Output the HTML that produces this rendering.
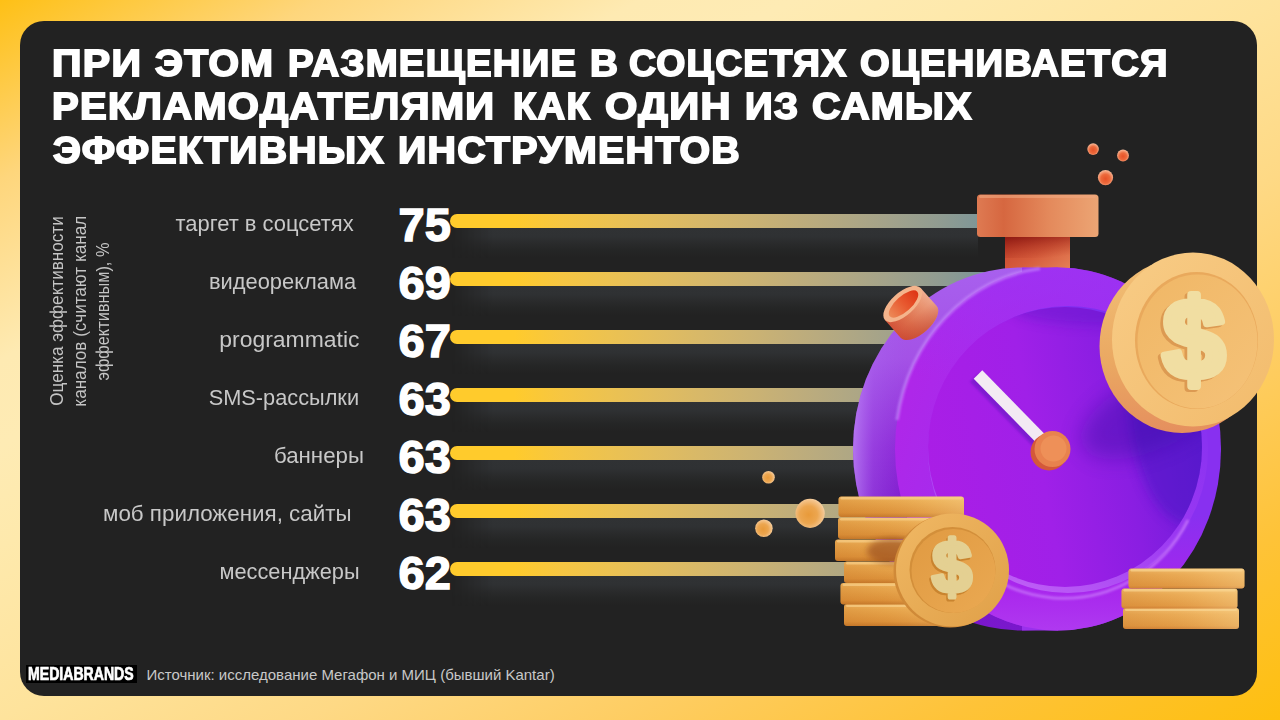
<!DOCTYPE html>
<html lang="ru">
<head>
<meta charset="utf-8">
<title>Slide</title>
<style>
html,body{margin:0;padding:0;}
body{width:1280px;height:720px;overflow:hidden;position:relative;
  font-family:"Liberation Sans",sans-serif;
  background:linear-gradient(to bottom right,#fec016 0%,#fed67c 12.5%,#feeab2 25%,#feebb4 31%,#fee9ac 38%,#fee39c 50%,#fed985 62%,#fecd62 74.5%,#fec338 87%,#febf0f 100%);}
#panel{position:absolute;left:20.4px;top:21.1px;width:1236.8px;height:675.4px;border-radius:24px;background:#222222;}
.t{position:absolute;left:53px;white-space:nowrap;color:#fff;font-weight:bold;font-size:37px;line-height:44px;
  transform-origin:0 0;-webkit-text-stroke:1.8px #fff;letter-spacing:1.2px;}
.lab{position:absolute;right:920px;white-space:nowrap;color:#c8c8c8;font-size:22px;line-height:24px;text-align:right;transform-origin:100% 50%;}
.val{position:absolute;left:398.6px;white-space:nowrap;color:#fff;font-weight:bold;font-size:47px;line-height:48px;-webkit-text-stroke:1.5px #fff;}
.bar{position:absolute;left:450px;height:14px;border-radius:7px;
  background:linear-gradient(to right,#ffcb2c 0%,#ffcb2c 12.0%,#f6c642 20.8%,#ecc251 29.6%,#e2bd5e 38.4%,#d7b869 47.2%,#ccb372 56.0%,#bfad7b 64.8%,#b1a883 73.6%,#a2a28b 82.4%,#919c91 91.2%,#7c9598 100.0%) no-repeat;background-size:535px 14px;}
.sh{position:absolute;left:452px;height:30px;
  background:linear-gradient(to bottom,#303234 0%,#2f3133 28%,#2a2b2c 50%,#252626 72%,#222222 100%);
  -webkit-mask-image:linear-gradient(to right,transparent 0,#000 40px);mask-image:linear-gradient(to right,transparent 0,#000 40px);}
#ylab{position:absolute;left:45.7px;top:431px;width:240px;color:#c4c4c4;font-size:18.6px;line-height:22.9px;text-align:center;white-space:nowrap;
  transform-origin:0 0;transform:rotate(-90deg);}
#ylab span{display:inline-block;transform:scaleX(0.92);}
#ylab span.s3{transform:scaleX(0.878);}
#logo{position:absolute;left:25.5px;top:665px;width:111.5px;height:17.5px;background:#000;color:#fff;font-weight:bold;font-size:17.5px;line-height:18.5px;white-space:nowrap;overflow:hidden;}
#logo span{display:inline-block;transform-origin:0 50%;transform:scaleX(0.805);margin-left:2.2px;-webkit-text-stroke:0.7px #fff;}
#src{position:absolute;left:146.5px;top:666px;color:#c8c8c8;font-size:15px;line-height:18px;white-space:nowrap;transform-origin:0 50%;}
svg{position:absolute;left:0;top:0;}
</style>
</head>
<body>
<div id="panel"></div>

<div class="t" style="top:42.1px;left:51.80px;transform:scaleX(1.1088);">ПРИ</div>
<div class="t" style="top:42.1px;left:155.17px;transform:scaleX(1.0613);">ЭТОМ</div>
<div class="t" style="top:42.1px;left:287.67px;transform:scaleX(1.0362);">РАЗМЕЩЕНИЕ</div>
<div class="t" style="top:42.1px;left:590.15px;transform:scaleX(1.0447);">В</div>
<div class="t" style="top:42.1px;left:629.39px;transform:scaleX(1.0108);">СОЦСЕТЯХ</div>
<div class="t" style="top:42.1px;left:859.88px;transform:scaleX(1.0318);">ОЦЕНИВАЕТСЯ</div>
<div class="t" style="top:85.1px;left:51.85px;transform:scaleX(1.0809);">РЕКЛАМОДАТЕЛЯМИ</div>
<div class="t" style="top:85.1px;left:512.67px;transform:scaleX(1.0334);">КАК</div>
<div class="t" style="top:85.1px;left:605.32px;transform:scaleX(1.1251);">ОДИН</div>
<div class="t" style="top:85.1px;left:745.19px;transform:scaleX(1.0397);">ИЗ</div>
<div class="t" style="top:85.1px;left:812.36px;transform:scaleX(1.0695);">САМЫХ</div>
<div class="t" style="top:128.6px;left:53.17px;transform:scaleX(1.0589);">ЭФФЕКТИВНЫХ</div>
<div class="t" style="top:128.6px;left:398.21px;transform:scaleX(1.0630);">ИНСТРУМЕНТОВ</div>

<div id="ylab"><span>Оценка эффективности</span><br><span>каналов (считают канал</span><br><span class="s3">эффективным), %</span></div>

<!-- shadows -->
<div class="sh" style="top:228px;width:526px;"></div>
<div class="sh" style="top:286px;width:500px;"></div>
<div class="sh" style="top:344px;width:480px;"></div>
<div class="sh" style="top:402px;width:440px;"></div>
<div class="sh" style="top:460px;width:440px;"></div>
<div class="sh" style="top:518px;width:440px;"></div>
<div class="sh" style="top:576px;width:430px;"></div>

<!-- bars -->
<div class="bar" style="top:214px;width:535px;"></div>
<div class="bar" style="top:272px;width:540px;"></div>
<div class="bar" style="top:330px;width:520px;"></div>
<div class="bar" style="top:388px;width:470px;"></div>
<div class="bar" style="top:446px;width:470px;"></div>
<div class="bar" style="top:504px;width:470px;"></div>
<div class="bar" style="top:562px;width:450px;"></div>

<!-- values -->
<div class="val" style="top:200.7px;">75</div>
<div class="val" style="top:258.7px;">69</div>
<div class="val" style="top:316.7px;">67</div>
<div class="val" style="top:374.7px;">63</div>
<div class="val" style="top:432.7px;">63</div>
<div class="val" style="top:490.7px;">63</div>
<div class="val" style="top:548.7px;">62</div>

<!-- labels -->
<div class="lab" style="top:212.4px;right:926.25px;transform:scaleX(0.9974);">таргет в соцсетях</div>
<div class="lab" style="top:270.4px;right:923.75px;transform:scaleX(0.9932);">видеореклама</div>
<div class="lab" style="top:328.4px;right:920.50px;transform:scaleX(1.0423);">programmatic</div>
<div class="lab" style="top:386.4px;right:920.70px;transform:scaleX(0.9890);">SMS-рассылки</div>
<div class="lab" style="top:444.4px;right:916.00px;transform:scaleX(1.0120);">баннеры</div>
<div class="lab" style="top:502.4px;right:928.30px;transform:scaleX(1.0162);">моб приложения, сайты</div>
<div class="lab" style="top:560.4px;right:920.70px;transform:scaleX(0.9890);">мессенджеры</div>

<div id="logo"><span>MEDIABRANDS</span></div>
<div id="src">Источник: исследование Мегафон и МИЦ (бывший Kantar)</div>

<svg id="art" width="1280" height="720" viewBox="0 0 1280 720">
<defs>
  <linearGradient id="gSide" x1="0" y1="0" x2="0" y2="1">
    <stop offset="0" stop-color="#a860ee"/><stop offset="0.25" stop-color="#a452e6"/><stop offset="0.5" stop-color="#8c28d6"/><stop offset="0.75" stop-color="#7612c6"/><stop offset="1" stop-color="#7a18cc"/>
  </linearGradient>
  <linearGradient id="gSideHi" x1="0" y1="0" x2="1" y2="0">
    <stop offset="0" stop-color="#c08cf8" stop-opacity="0.75"/><stop offset="0.06" stop-color="#b070f4" stop-opacity="0.3"/><stop offset="0.16" stop-color="#a060f0" stop-opacity="0"/>
  </linearGradient>
  <linearGradient id="gRim" x1="0" y1="0" x2="1" y2="0.35">
    <stop offset="0" stop-color="#b424e6"/><stop offset="0.3" stop-color="#a82aec"/><stop offset="0.7" stop-color="#9a2ef0"/><stop offset="1" stop-color="#8830f0"/>
  </linearGradient>
  <linearGradient id="gWall" x1="0.8" y1="0" x2="0.3" y2="1">
    <stop offset="0" stop-color="#7a2cf0"/><stop offset="0.6" stop-color="#9a38f2"/><stop offset="1" stop-color="#c060f6"/>
  </linearGradient>
  <linearGradient id="gRimV" x1="0" y1="0" x2="0" y2="1">
    <stop offset="0" stop-color="#9c34f4" stop-opacity="0.7"/><stop offset="0.3" stop-color="#9c34f4" stop-opacity="0"/><stop offset="0.68" stop-color="#ac24ec" stop-opacity="0"/><stop offset="0.88" stop-color="#ac24ec" stop-opacity="0.8"/><stop offset="1" stop-color="#b23af0" stop-opacity="0.9"/>
  </linearGradient>
  <linearGradient id="gFace" x1="0" y1="0.6" x2="1" y2="0.4">
    <stop offset="0" stop-color="#aa1ee6"/><stop offset="0.4" stop-color="#a020e8"/><stop offset="0.7" stop-color="#8a1ee2"/><stop offset="1" stop-color="#6a1cd8"/>
  </linearGradient>
  <radialGradient id="gFaceSh" cx="0.62" cy="0.12" r="0.55">
    <stop offset="0" stop-color="#4a10b0" stop-opacity="0.75"/><stop offset="1" stop-color="#4a10b0" stop-opacity="0"/>
  </radialGradient>
  <linearGradient id="gCap" x1="0" y1="0" x2="1" y2="0">
    <stop offset="0" stop-color="#de7a52"/><stop offset="0.22" stop-color="#d66740"/><stop offset="0.6" stop-color="#e48a5c"/><stop offset="1" stop-color="#eca574"/>
  </linearGradient>
  <linearGradient id="gStem" x1="0" y1="0" x2="1" y2="1">
    <stop offset="0" stop-color="#c4402a"/><stop offset="0.5" stop-color="#d65c3c"/><stop offset="1" stop-color="#e8885c"/>
  </linearGradient>
  <linearGradient id="gStemSh" x1="0.3" y1="0" x2="0.7" y2="1">
    <stop offset="0" stop-color="#7c0c0a" stop-opacity="0.7"/><stop offset="0.45" stop-color="#8c140e" stop-opacity="0.35"/><stop offset="1" stop-color="#a02414" stop-opacity="0"/>
  </linearGradient>
  <linearGradient id="gBtnBody" x1="0" y1="0" x2="1" y2="0">
    <stop offset="0" stop-color="#d4553a"/><stop offset="0.35" stop-color="#e07450"/><stop offset="0.8" stop-color="#eea07c"/><stop offset="1" stop-color="#f2b294"/>
  </linearGradient>
  <linearGradient id="gBtnShade" x1="0" y1="0" x2="0" y2="1">
    <stop offset="0" stop-color="#c03c28" stop-opacity="0"/><stop offset="0.5" stop-color="#c03c28" stop-opacity="0.12"/><stop offset="1" stop-color="#b83424" stop-opacity="0.5"/>
  </linearGradient>
  <linearGradient id="gBtnIn" x1="0" y1="0" x2="1" y2="0">
    <stop offset="0" stop-color="#ec8a58"/><stop offset="0.5" stop-color="#e85a30"/><stop offset="1" stop-color="#de3414"/>
  </linearGradient>
  <radialGradient id="gBallO" cx="0.5" cy="0.58" r="0.6">
    <stop offset="0" stop-color="#e65228"/><stop offset="0.5" stop-color="#ec6a3c"/><stop offset="0.85" stop-color="#f6a884"/><stop offset="1" stop-color="#f8c4a4"/>
  </radialGradient>
  <radialGradient id="gBallG" cx="0.45" cy="0.55" r="0.6">
    <stop offset="0" stop-color="#e89a3a"/><stop offset="0.5" stop-color="#eca650"/><stop offset="0.85" stop-color="#f4c48c"/><stop offset="1" stop-color="#f8dab4"/>
  </radialGradient>
  <linearGradient id="gBigEdge" x1="0" y1="0" x2="0" y2="1">
    <stop offset="0" stop-color="#f2c076"/><stop offset="0.6" stop-color="#eaa862"/><stop offset="1" stop-color="#e58f5e"/>
  </linearGradient>
  <linearGradient id="gBigFace" x1="0" y1="0" x2="1" y2="1">
    <stop offset="0" stop-color="#f8cc86"/><stop offset="1" stop-color="#f2bb6c"/>
  </linearGradient>
  <linearGradient id="gBigIn" x1="0" y1="0" x2="1" y2="1">
    <stop offset="0" stop-color="#f0b766"/><stop offset="1" stop-color="#f5c278"/>
  </linearGradient>
  <linearGradient id="gCoin" x1="0" y1="0" x2="1" y2="1">
    <stop offset="0" stop-color="#f0b864"/><stop offset="1" stop-color="#e0a048"/>
  </linearGradient>
  <linearGradient id="gCoinIn" x1="0" y1="0" x2="1" y2="1">
    <stop offset="0" stop-color="#e09a42"/><stop offset="1" stop-color="#eaa952"/>
  </linearGradient>
  <linearGradient id="gStack" x1="0" y1="0" x2="0" y2="1">
    <stop offset="0" stop-color="#f2bb66"/><stop offset="0.25" stop-color="#eaaa50"/><stop offset="0.8" stop-color="#de943c"/><stop offset="1" stop-color="#c67a2c"/>
  </linearGradient>
  <linearGradient id="gStackR" x1="0" y1="0" x2="0" y2="1">
    <stop offset="0" stop-color="#f4c070"/><stop offset="0.3" stop-color="#ecae58"/><stop offset="0.85" stop-color="#e39c46"/><stop offset="1" stop-color="#d4853a"/>
  </linearGradient>
  <linearGradient id="gStackH" x1="0" y1="0" x2="1" y2="0">
    <stop offset="0" stop-color="#c06a1c" stop-opacity="0.22"/><stop offset="0.35" stop-color="#c06a1c" stop-opacity="0.08"/><stop offset="0.7" stop-color="#ffe2a0" stop-opacity="0.12"/><stop offset="1" stop-color="#ffe6a8" stop-opacity="0.3"/>
  </linearGradient>
  <filter id="b1" x="-20%" y="-20%" width="140%" height="140%"><feGaussianBlur stdDeviation="1"/></filter>
  <filter id="b3" x="-20%" y="-20%" width="140%" height="140%"><feGaussianBlur stdDeviation="3"/></filter>
  <filter id="b10" x="-40%" y="-40%" width="180%" height="180%"><feGaussianBlur stdDeviation="10"/></filter>
  <filter id="b6" x="-30%" y="-30%" width="160%" height="160%"><feGaussianBlur stdDeviation="6"/></filter>
  <clipPath id="cFace"><ellipse cx="1065" cy="447" rx="137" ry="140"/></clipPath>
</defs>

<!-- small orange balls -->
<circle cx="1093.1" cy="149.1" r="5.8" fill="url(#gBallO)"/>
<circle cx="1123" cy="155.5" r="5.9" fill="url(#gBallO)"/>
<circle cx="1105.5" cy="177.6" r="7.6" fill="url(#gBallO)"/>
<!-- gold balls -->
<circle cx="768.5" cy="477.2" r="6.3" fill="url(#gBallG)"/>
<circle cx="810.1" cy="513.3" r="14.6" fill="url(#gBallG)"/>
<circle cx="763.9" cy="528.3" r="8.75" fill="url(#gBallG)"/>

<!-- top button -->
<rect x="1005" y="232" width="65" height="45" fill="url(#gStem)"/>
<rect x="1005" y="236" width="65" height="22" fill="url(#gStemSh)"/>
<rect x="977" y="194.5" width="121.5" height="42.5" rx="3.5" fill="url(#gCap)"/>
<rect x="979" y="195" width="117" height="3" rx="1.5" fill="#f0a880" opacity="0.6"/>


<!-- clock body -->
<g>
  <ellipse cx="1022" cy="449" rx="169" ry="181.5" fill="url(#gSide)"/>
  <ellipse cx="1022" cy="449" rx="169" ry="181.5" fill="url(#gSideHi)"/>
  <rect x="1022" y="267.5" width="36" height="363" fill="#9a30ec"/>
  <ellipse cx="1058" cy="449" rx="163" ry="181.5" fill="url(#gRim)"/>
  <ellipse cx="1058" cy="449" rx="163" ry="181.5" fill="url(#gRimV)"/>
  <!-- rim highlight (upper-left only) -->
  <path d="M 1040 268.5 A 163 181.5 0 0 0 897 420" fill="none" stroke="#c88cfc" stroke-width="3.5" opacity="0.6" filter="url(#b1)"/>
  <!-- recess wall -->
  <ellipse cx="1068" cy="449.5" rx="140" ry="143.5" fill="url(#gWall)"/>
  <ellipse cx="1065" cy="447" rx="137" ry="140" fill="url(#gFace)"/>
  <g clip-path="url(#cFace)">
    <ellipse cx="1190" cy="390" rx="62" ry="135" fill="#4a14c4" opacity="0.55" filter="url(#b6)"/>
    <ellipse cx="1110" cy="308" rx="100" ry="18" fill="#5a16c8" opacity="0.4" filter="url(#b6)"/>
    <ellipse cx="1155" cy="412" rx="80" ry="36" fill="#3a0ea6" opacity="0.42" filter="url(#b10)" transform="rotate(-25 1155 412)"/>
  </g>
  <!-- lower inner highlight -->
  <path d="M 932 500 A 139 143 0 0 0 1188 520" fill="none" stroke="#cc80fc" stroke-width="3" opacity="0.65" filter="url(#b1)"/>
</g>

<!-- side button -->
<g transform="translate(902.8,304) rotate(-41.8)">
  <path d="M -24 0 L -24 24 A 24 11.5 0 0 0 24 24 L 24 0 Z" fill="url(#gBtnBody)"/>
  <path d="M -24 0 L -24 24 A 24 11.5 0 0 0 24 24 L 24 0 Z" fill="url(#gBtnShade)"/>
  <ellipse cx="0" cy="0" rx="24" ry="11.5" fill="#f4b48c"/>
  <ellipse cx="0.5" cy="0.5" rx="18.5" ry="7.8" fill="url(#gBtnIn)"/>
</g>

<!-- hand -->
<line x1="978" y1="374.5" x2="1043" y2="441" stroke="#4a12b0" stroke-width="12.5" opacity="0.4" transform="translate(-3.5,3)" filter="url(#b1)"/>
<line x1="978" y1="374.5" x2="1043" y2="441" stroke="#f3eaf3" stroke-width="12"/>
<circle cx="1049" cy="452" r="18.5" fill="#d4583a"/>
<circle cx="1052.5" cy="449" r="18" fill="#e8824e"/>
<circle cx="1053.5" cy="448.5" r="13" fill="#ee9058"/>

<!-- big coin -->
<g>
  <ellipse cx="1182" cy="346" rx="82.5" ry="87" fill="url(#gBigEdge)"/>
  <ellipse cx="1193" cy="339.5" rx="81" ry="87" fill="url(#gBigFace)"/>
  <ellipse cx="1196.5" cy="340.5" rx="61.5" ry="68.5" fill="#e9a95c"/>
  <ellipse cx="1197.5" cy="341.5" rx="60" ry="67" fill="url(#gBigIn)"/>
  <g transform="translate(1193.75,377.78) scale(1.1083,1.1111)">
  <text x="0" y="0" font-family="Liberation Sans, sans-serif" font-weight="bold" font-size="100" text-anchor="middle" fill="#dc9a52" stroke="#dc9a52" stroke-width="7" stroke-linejoin="round" transform="translate(-2.5,2)">$</text>
  <text x="0" y="0" font-family="Liberation Sans, sans-serif" font-weight="bold" font-size="100" text-anchor="middle" fill="#f1dea2" stroke="#f1dea2" stroke-width="7" stroke-linejoin="round">$</text>
  </g>
</g>

<!-- left coin stack -->
<g>
  <rect x="844" y="604" width="120" height="22" rx="3" fill="url(#gStack)"/>
  <rect x="844" y="604" width="120" height="22" rx="3" fill="url(#gStackH)"/>
  <rect x="846" y="604.5" width="116" height="2.5" rx="1.2" fill="#f8cf88" opacity="0.7"/>
  <rect x="840.5" y="583" width="120" height="21.5" rx="3" fill="url(#gStack)"/>
  <rect x="840.5" y="583" width="120" height="21.5" rx="3" fill="url(#gStackH)"/>
  <rect x="842.5" y="583.5" width="116" height="2.5" rx="1.2" fill="#f8cf88" opacity="0.7"/>
  <rect x="844" y="561.5" width="120" height="21.5" rx="3" fill="url(#gStack)"/>
  <rect x="844" y="561.5" width="120" height="21.5" rx="3" fill="url(#gStackH)"/>
  <rect x="846" y="562.0" width="116" height="2.5" rx="1.2" fill="#f8cf88" opacity="0.7"/>
  <rect x="835" y="539.5" width="120" height="21.5" rx="3" fill="url(#gStack)"/>
  <rect x="835" y="539.5" width="120" height="21.5" rx="3" fill="url(#gStackH)"/>
  <rect x="837" y="540.0" width="116" height="2.5" rx="1.2" fill="#f8cf88" opacity="0.7"/>
  <rect x="838" y="517.5" width="126" height="21.5" rx="3" fill="url(#gStack)"/>
  <rect x="838" y="517.5" width="126" height="21.5" rx="3" fill="url(#gStackH)"/>
  <rect x="840" y="518.0" width="122" height="2.5" rx="1.2" fill="#f8cf88" opacity="0.7"/>
  <rect x="838.5" y="496.5" width="125.5" height="20.5" rx="3" fill="url(#gStack)"/>
  <rect x="838.5" y="496.5" width="125.5" height="20.5" rx="3" fill="url(#gStackH)"/>
  <rect x="840.5" y="497.0" width="121.5" height="2.5" rx="1.2" fill="#f8cf88" opacity="0.7"/>
</g>
<ellipse cx="893" cy="551" rx="26" ry="13" fill="#8a3c14" opacity="0.55" filter="url(#b3)"/>
<!-- small coin -->
<g>
  <circle cx="950" cy="571" r="56.5" fill="#d08a38"/>
  <circle cx="952.5" cy="570" r="56.5" fill="url(#gCoin)"/>
  <circle cx="952.5" cy="570" r="43" fill="#d38f3a"/>
  <circle cx="953.5" cy="571" r="42" fill="url(#gCoinIn)"/>
  <g transform="translate(952,592.4) scale(1.1053,1.1281)">
  <text x="0" y="0" font-family="Liberation Sans, sans-serif" font-weight="bold" font-size="64" text-anchor="middle" fill="#c9842f" stroke="#c9842f" stroke-width="4.5" stroke-linejoin="round" transform="translate(-1.5,1.5)">$</text>
  <text x="0" y="0" font-family="Liberation Sans, sans-serif" font-weight="bold" font-size="64" text-anchor="middle" fill="#e4d092" stroke="#e4d092" stroke-width="4.5" stroke-linejoin="round">$</text>
  </g>
</g>

<!-- right coin stack -->
<g>
  <rect x="1123" y="608" width="116" height="21" rx="3" fill="url(#gStackR)"/>
  <rect x="1123" y="608" width="116" height="21" rx="3" fill="url(#gStackH)"/>
  <rect x="1125" y="608.5" width="112" height="2.5" rx="1.2" fill="#fad692" opacity="0.7"/>
  <rect x="1121.5" y="588.5" width="116" height="20" rx="3" fill="url(#gStackR)"/>
  <rect x="1121.5" y="588.5" width="116" height="20" rx="3" fill="url(#gStackH)"/>
  <rect x="1123.5" y="589.0" width="112" height="2.5" rx="1.2" fill="#fad692" opacity="0.7"/>
  <rect x="1128.5" y="568.5" width="116" height="20" rx="3" fill="url(#gStackR)"/>
  <rect x="1128.5" y="568.5" width="116" height="20" rx="3" fill="url(#gStackH)"/>
  <rect x="1130.5" y="569.0" width="112" height="2.5" rx="1.2" fill="#fad692" opacity="0.7"/>
</g>
</svg>
</body>
</html>
